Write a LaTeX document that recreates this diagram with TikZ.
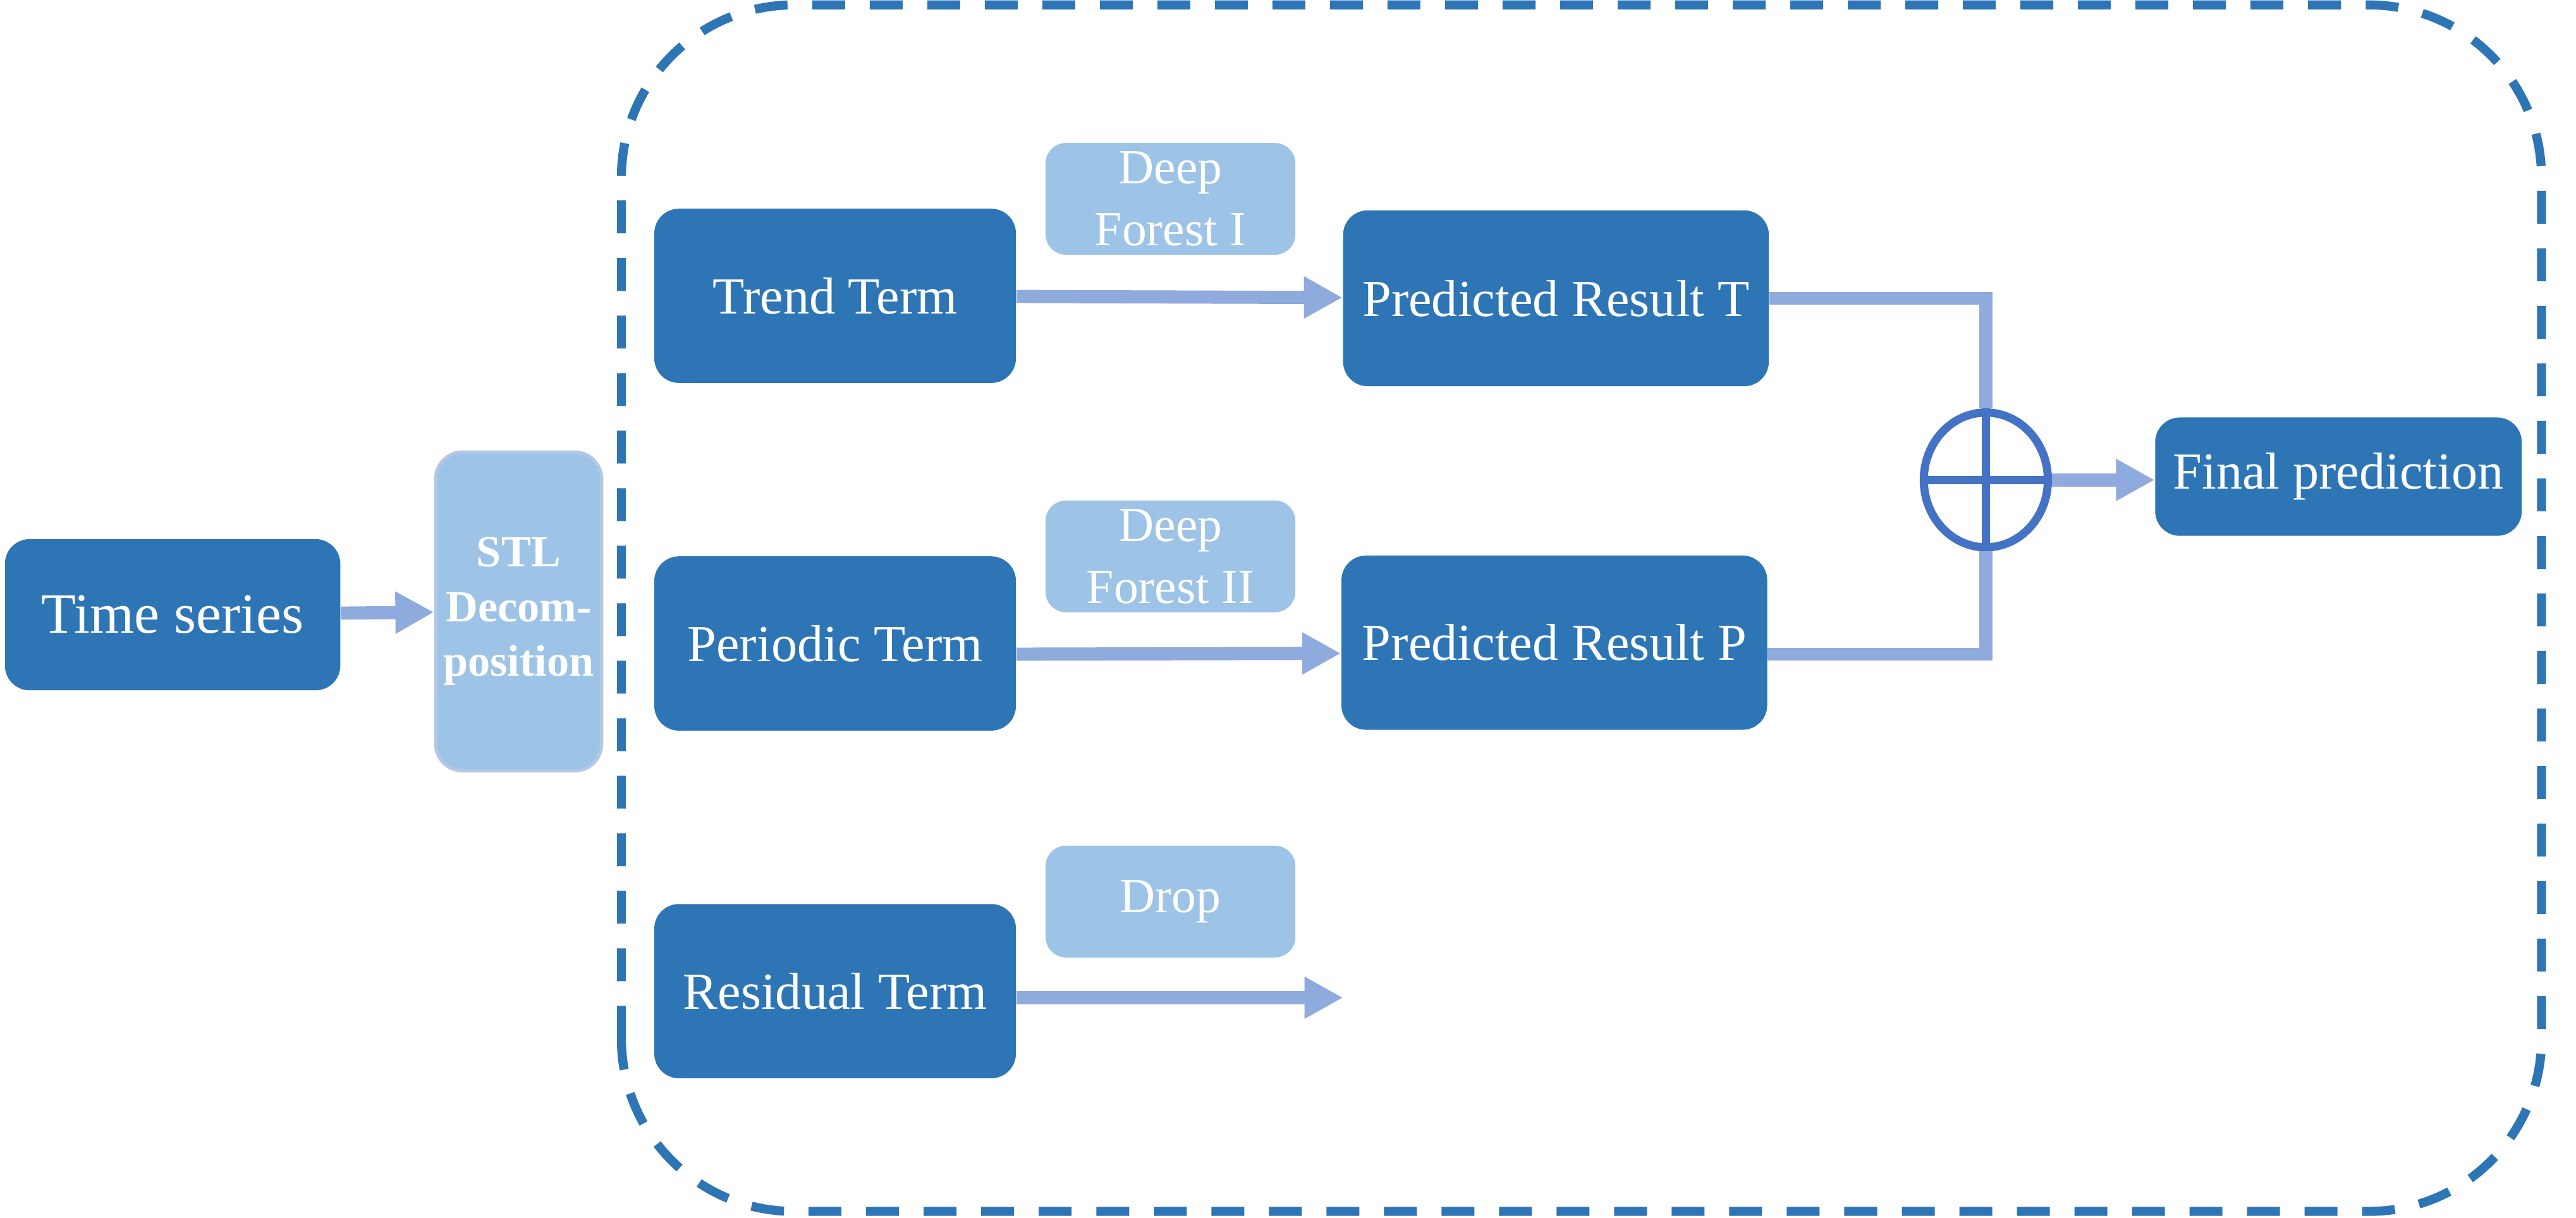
\documentclass[tikz,border=0pt]{standalone}
\usepackage{fontspec}
\setmainfont{Liberation Serif}
\usepackage{tikz}
\usetikzlibrary{arrows.meta, shapes.geometric}
\definecolor{boxblue}{HTML}{2E75B6}
\definecolor{lightbox}{HTML}{9DC3E6}
\definecolor{stledge}{HTML}{B4C7E7}
\definecolor{flowblue}{HTML}{8FAADC}
\definecolor{sumblue}{HTML}{4472C4}
\tikzset{termbox/.style={rectangle, rounded corners=0.3cm, fill=boxblue, text=white, inner sep=0pt, minimum width=4.4cm, minimum height=2.12cm, font=\fontsize{18}{21.6}\selectfont},
    modelbox/.style={rectangle, rounded corners=0.25cm, fill=lightbox, text=white, inner sep=0pt, align=center, minimum width=3.04cm, minimum height=1.36cm, font=\fontsize{17}{21.5}\selectfont},
    stlbox/.style={rectangle, rounded corners=0.33cm, fill=lightbox, draw=stledge, line width=0.04cm, text=white, inner sep=0pt, align=center, minimum width=2.02cm, minimum height=3.88cm, font=\bfseries\fontsize{15.4}{19}\selectfont},
    flow/.style={flowblue, line width=0.16cm, -{Triangle[length=0.47cm,width=0.48cm]}},
    link/.style={flowblue, line width=0.16cm},
    sumnode/.style={ellipse, draw=sumblue, line width=0.1cm, inner sep=0pt, minimum width=1.51cm, minimum height=1.64cm},
    frame/.style={draw=boxblue, line width=0.11cm, dash pattern=on 0.4cm off 0.3cm, rounded corners=2.1cm}}

\begin{document}
\begin{tikzpicture}[scale=1]
                      \useasboundingbox (0,0) rectangle (31.34,14.82);
                      \draw[frame](7.56,0.08) rectangle (30.92,14.76);
                      
                      \node[termbox, minimum width=4.08cm, minimum height=1.84cm, font=\fontsize{19.7}{23}\selectfont] (series) at (2.10,7.34) {Time series};
                      \node[stlbox] (stl) at (6.31,7.38) {\raisebox{-0.1cm}{\parbox{2cm}{\centering STL\\Decom-\\position}}};
                      
                      \node[termbox] (trend) at (10.16,11.22) {Trend Term};
                      \node[termbox] (periodic) at (10.16,6.99) {Periodic Term};
                      \node[termbox] (residual) at (10.16,2.76) {Residual Term};
                      
                      \node[modelbox] (forest1) at (14.24,12.40) {Deep\\Forest I};
                      \node[modelbox] (forest2) at (14.24,8.05) {Deep\\Forest II};
                      \node[modelbox] (drop) at (14.24,3.85) {Drop};
                      
                      \node[termbox, minimum width=5.18cm, minimum height=2.14cm] (resultT) at (18.93,11.19) {Predicted Result T};
                      \node[termbox, minimum width=5.18cm, minimum height=2.12cm] (resultP) at (18.91,7.00) {Predicted Result P};
                      \coordinate (dropend) at (16.34,2.68);
                      
                      \node[sumnode] (sum) at (24.16,8.98) {};
                      \node[termbox, minimum width=4.46cm, minimum height=1.44cm] (final) at (28.45,9.02) {Final prediction};
                      
                      \draw[flow](series)--(stl);
                      \draw[flow](trend)--(resultT);
                      \draw[flow]([yshift=-0.13cm]periodic.east)--([yshift=-0.13cm]resultP.west);
                      \draw[flow]([yshift=-0.08cm]residual.east)--(dropend);
                      \draw[link](resultT.east)-|(sum.north);
                      \draw[link]([yshift=-0.14cm]resultP.east)-|(sum.south);
                      \draw[flow](sum.east)--(sum.east-|final.west);
                      
                      \draw[sumblue, line width=0.1cm](sum.north)--(sum.south);
                      \draw[sumblue, line width=0.1cm](sum.west)--(sum.east);
             \end{tikzpicture}
\end{document}
